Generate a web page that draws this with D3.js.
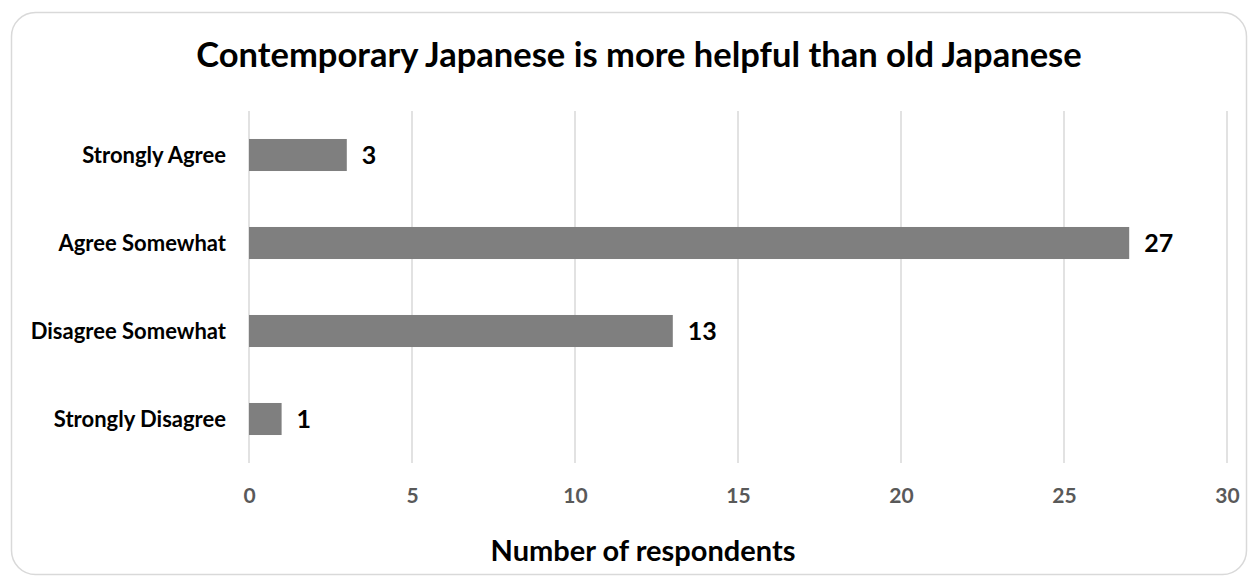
<!DOCTYPE html>
<html>
<head>
<meta charset="utf-8">
<script src="https://cdn.jsdelivr.net/npm/d3@7"></script>
<style>
  body { margin: 0; background: #fff; }
  svg { display: block; font-family: Lato, "Open Sans", sans-serif; }
</style>
</head>
<body>
<div id="chart"></div>
<script>
const categories = ["Strongly Agree", "Agree Somewhat", "Disagree Somewhat", "Strongly Disagree"];
const counts = [3, 27, 13, 1];
const xTicks = [0, 5, 10, 15, 20, 25, 30];

const width = 1257, height = 583;
const plot = { left: 249, right: 1227, top: 111, bottom: 463 };

const svg = d3.select("#chart").append("svg")
    .attr("width", width)
    .attr("height", height);

// frame
svg.append("rect")
    .attr("x", 11.5).attr("y", 12.5)
    .attr("width", 1235).attr("height", 562)
    .attr("rx", 24)
    .attr("fill", "#fff")
    .attr("stroke", "#d9d9d9")
    .attr("stroke-width", 1.5);

const x = d3.scaleLinear().domain([0, 30]).range([plot.left, plot.right]);
const y = d3.scaleBand().domain(categories).range([plot.top, plot.bottom])
    .paddingInner(0.636).paddingOuter(0.318);

// gridlines
svg.selectAll(".grid")
    .data(xTicks).enter()
    .append("line")
    .attr("x1", d => x(d)).attr("x2", d => x(d))
    .attr("y1", plot.top).attr("y2", plot.bottom)
    .attr("stroke", "#d9d9d9")
    .attr("stroke-width", 1.5);

// x axis labels
const xAxis = d3.axisBottom(x).tickValues(xTicks).tickSize(0).tickPadding(0);
const gx = svg.append("g")
    .attr("transform", `translate(0,${plot.bottom + 40})`)
    .call(xAxis);
gx.select(".domain").remove();
gx.selectAll("text")
    .attr("fill", "#595959")
    .attr("font-size", 21)
    .attr("font-weight", "bold")
    .attr("font-family", "Lato, sans-serif")
    .attr("dy", 0);

// category axis
const yAxis = d3.axisLeft(y).tickSize(0).tickPadding(23);
const gy = svg.append("g")
    .attr("transform", `translate(${plot.left},0)`)
    .call(yAxis);
gy.select(".domain").remove();
gy.selectAll("text")
    .attr("fill", "#000")
    .attr("font-size", 22)
    .attr("font-weight", "bold")
    .attr("font-family", "Lato, sans-serif")
    .attr("dy", "0.36em");

// bars
svg.selectAll(".bar")
    .data(counts).enter()
    .append("rect")
    .attr("class", "bar")
    .attr("x", x(0))
    .attr("y", (d, i) => y(categories[i]))
    .attr("width", d => x(d) - x(0))
    .attr("height", y.bandwidth())
    .attr("fill", "#7f7f7f");

// value labels
svg.selectAll(".val")
    .data(counts).enter()
    .append("text")
    .attr("x", d => x(d) + 15)
    .attr("y", (d, i) => y(categories[i]) + y.bandwidth() / 2)
    .attr("dy", "0.36em")
    .attr("font-size", 25)
    .attr("font-weight", "bold")
    .attr("fill", "#000")
    .text(d => d);

// title
svg.append("text")
    .attr("x", 639).attr("y", 67)
    .attr("text-anchor", "middle")
    .attr("font-size", 34.5)
    .attr("font-weight", "bold")
    .attr("fill", "#000")
    .text("Contemporary Japanese is more helpful than old Japanese");

// axis title
svg.append("text")
    .attr("x", 643).attr("y", 561)
    .attr("text-anchor", "middle")
    .attr("font-size", 29)
    .attr("font-weight", "bold")
    .attr("fill", "#000")
    .text("Number of respondents");
</script>
</body>
</html>
